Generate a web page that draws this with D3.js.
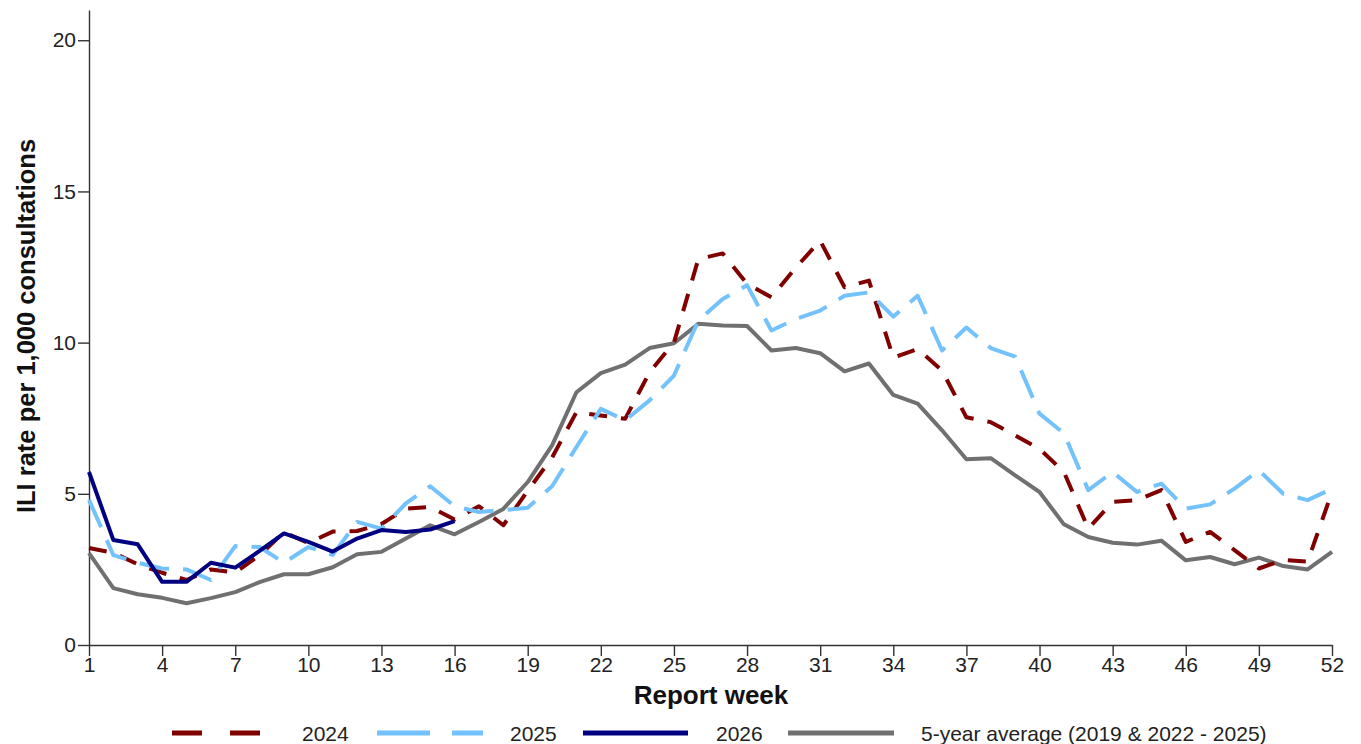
<!DOCTYPE html>
<html>
<head>
<meta charset="utf-8">
<script src="https://cdn.jsdelivr.net/npm/d3@7"></script>
<style>
  html, body { margin: 0; padding: 0; background: #fff; }
  svg { display: block; font-family: "Liberation Sans", Arial, sans-serif; }
</style>
</head>
<body>
<svg id="chart" width="1361" height="744"></svg>
<script>
// ---- Data ----
const weeks = d3.range(1, 53);
const xTicks = [1, 4, 7, 10, 13, 16, 19, 22, 25, 28, 31, 34, 37, 40, 43, 46, 49, 52];
const yTicks = [0, 5, 10, 15, 20];

const s2024 = [3.21, 3.05, 2.67, 2.39, 2.15, 2.5, 2.4, 2.97, 3.73, 3.37, 3.75, 3.77, 4.0, 4.51, 4.56, 4.15, 4.59, 3.96, 5.1, 6.2,
  7.7, 7.59, 7.48, 9.02, 10.0, 12.76, 12.95, 11.94, 11.5, 12.48, 13.37, 11.83, 12.05, 9.5, 9.79, 9.08, 7.53, 7.37, 6.93, 6.49,
  5.72, 3.85, 4.73, 4.79, 5.12, 3.41, 3.74, 3.14, 2.53, 2.81, 2.76, 5.06];
const s2025 = [4.8, 2.97, 2.72, 2.53, 2.5, 2.15, 3.27, 3.24, 2.72, 3.24, 2.98, 4.07, 3.85, 4.68, 5.25, 4.59, 4.4, 4.46, 4.54, 5.25,
  6.55, 7.81, 7.43, 8.09, 8.91, 10.73, 11.44, 11.9, 10.4, 10.78, 11.06, 11.55, 11.66, 10.86, 11.55, 9.74, 10.5, 9.82, 9.54, 7.65,
  7.0, 5.12, 5.72, 5.06, 5.34, 4.51, 4.65, 5.17, 5.78, 5.0, 4.79, 5.17];
const s2026 = [5.72, 3.47, 3.33, 2.09, 2.09, 2.72, 2.56, 3.11, 3.69, 3.41, 3.09, 3.52, 3.8, 3.74, 3.82, 4.1];
const sAvg = [3.04, 1.88, 1.68, 1.56, 1.38, 1.55, 1.75, 2.08, 2.34, 2.34, 2.57, 3.0, 3.08, 3.52, 3.96, 3.66, 4.07, 4.5, 5.39, 6.6,
  8.36, 8.99, 9.27, 9.82, 9.98, 10.62, 10.57, 10.55, 9.74, 9.82, 9.65, 9.05, 9.31, 8.27, 7.98, 7.1, 6.14, 6.18, 5.61, 5.06,
  3.99, 3.57, 3.38, 3.32, 3.45, 2.8, 2.91, 2.67, 2.89, 2.61, 2.5, 3.08];

const seriesNames = ["2024", "2025", "2026", "5-year average (2019 & 2022 - 2025)"];
const seriesData = [s2024, s2025, s2026, sAvg];
const seriesColors = ["#800000", "#73C2FB", "#000080", "#707070"];
const seriesDash = ["18,14", "30,14", null, null];

// ---- Layout ----
const svg = d3.select("#chart");
const x = d3.scaleLinear().domain([1, 52]).range([89, 1332]);
const y = d3.scaleLinear().domain([0, 21]).range([645, 10]);

// axes
const yAxis = svg.append("g")
  .attr("transform", "translate(89,0)")
  .call(d3.axisLeft(y).tickValues(yTicks).tickSize(11).tickSizeOuter(0).tickPadding(2));
const xAxis = svg.append("g")
  .attr("transform", "translate(0,645)")
  .call(d3.axisBottom(x).tickValues(xTicks).tickSize(11).tickSizeOuter(0).tickPadding(1));

[yAxis, xAxis].forEach(g => {
  g.select(".domain").attr("stroke", "#333").attr("stroke-width", 1.4);
  g.selectAll(".tick line").attr("stroke", "#333").attr("stroke-width", 1.4);
  g.selectAll(".tick text").attr("fill", "#222").style("font-size", "21px")
    .style("font-family", '"Liberation Sans", Arial, sans-serif');
});

// axis titles
svg.append("text")
  .attr("x", 711).attr("y", 704)
  .attr("text-anchor", "middle")
  .style("font-size", "26px").style("font-weight", "bold").attr("fill", "#111")
  .text("Report week");
svg.append("text")
  .attr("transform", "translate(35,326) rotate(-90)")
  .attr("text-anchor", "middle")
  .style("font-size", "25.5px").style("font-weight", "bold").attr("fill", "#111")
  .text("ILI rate per 1,000 consultations");

// lines (avg drawn first so others overlay)
const line = d3.line().x((d, i) => x(weeks[i])).y(d => y(d));
const order = [3, 0, 1, 2];
order.forEach(k => {
  svg.append("path")
    .datum(seriesData[k])
    .attr("d", line)
    .attr("fill", "none")
    .attr("stroke", seriesColors[k])
    .attr("stroke-width", 4)
    .attr("stroke-linejoin", "round")
    .attr("stroke-dasharray", seriesDash[k]);
});

// legend
const legendItems = [
  { x1: 172, x2: 262, tx: 302, dash: "30,28" },
  { x1: 377, x2: 483, tx: 510, dash: "53,22" },
  { x1: 583, x2: 688, tx: 716, dash: null },
  { x1: 788, x2: 894, tx: 921, dash: null }
];
const ly = 733;
legendItems.forEach((it, k) => {
  svg.append("line")
    .attr("x1", it.x1).attr("x2", it.x2).attr("y1", ly).attr("y2", ly)
    .attr("stroke", seriesColors[k]).attr("stroke-width", 5)
    .attr("stroke-dasharray", it.dash);
  svg.append("text")
    .attr("x", it.tx).attr("y", ly + 7.5)
    .style("font-size", "21px").attr("fill", "#222")
    .text(seriesNames[k]);
});
</script>
</body>
</html>
